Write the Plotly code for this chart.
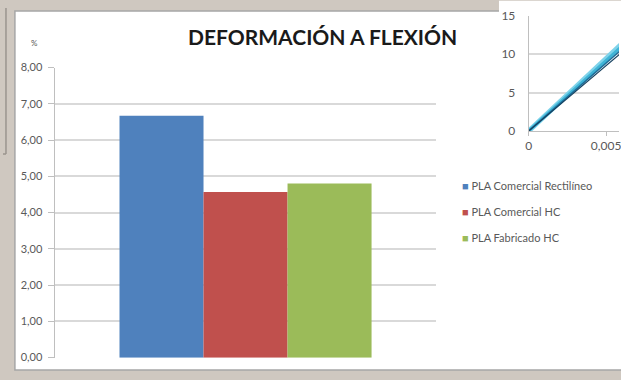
import plotly.graph_objects as go

# Bending strain per material (%)
materials = ["PLA Comercial Rectilíneo", "PLA Comercial HC", "PLA Fabricado HC"]
strain_pct = [6.67, 4.57, 4.80]
bar_colors = ["#4F81BD", "#C0504D", "#9BBB59"]
category = ["Deformación"]

y_ticks = [0, 1, 2, 3, 4, 5, 6, 7, 8]
y_tick_labels = ["0,00", "1,00", "2,00", "3,00", "4,00", "5,00", "6,00", "7,00", "8,00"]

# Stress-strain curves of the side panel
curve_strain = [[0, 0.0060], [0, 0.0060], [0, 0.0060], [0, 0.0060]]
curve_stress = [[0, 11.3], [0, 11.0], [0, 10.6], [0, 10.2]]
curve_colors = ["#7FD3EA", "#3FB4D6", "#1D6E9A", "#15405F"]
curve_widths = [5, 3, 1.6, 1.2]
side_y_ticks = [0, 5, 10, 15]
side_x_ticks = [0, 0.005]
side_x_labels = ["0", "0,005"]

W, H = 621, 380

def px(x):
    return x / W

def py(y):
    return 1 - y / H

fig = go.Figure()

for name, val, col in zip(materials, strain_pct, bar_colors):
    fig.add_trace(go.Bar(
        x=category, y=[val], name=name, marker=dict(color=col, line=dict(width=0)),
        showlegend=False, xaxis="x", yaxis="y",
    ))

for xs, ys, col, w in zip(curve_strain, curve_stress, curve_colors, curve_widths):
    fig.add_trace(go.Scatter(
        x=xs, y=ys, mode="lines", line=dict(color=col, width=w),
        showlegend=False, xaxis="x2", yaxis="y2", hoverinfo="skip",
    ))

grey = "#595959"
grid = "#D9D9D9"

# Legend rows: coloured square + material name
legend_rows_y = [185, 212, 239]
legend_annotations = [
    dict(text=f"<span style='color:{col}'>■</span> {name}",
         xref="paper", yref="paper", x=px(461), y=py(ly),
         xanchor="left", yanchor="middle", showarrow=False,
         font=dict(family="Lato", size=11, color=grey))
    for name, col, ly in zip(materials, bar_colors, legend_rows_y)
]

fig.update_layout(
    width=W, height=H,
    margin=dict(l=0, r=0, t=0, b=0),
    paper_bgcolor="#CFC8C0",
    plot_bgcolor="rgba(0,0,0,0)",
    barmode="group",
    bargap=0.34,
    bargroupgap=0,
    showlegend=False,
    xaxis=dict(
        domain=[px(52), px(437)], showticklabels=False, showgrid=False,
        zeroline=False, showline=False, ticks="", fixedrange=True,
    ),
    yaxis=dict(
        domain=[py(364), py(62)], range=[0, 8],
        tickvals=y_ticks, ticktext=y_tick_labels,
        tickfont=dict(family="Lato", size=11, color=grey),
        ticks="outside", ticklen=6, tickcolor="#BFBFBF",
        ticklabelstandoff=3,
        showgrid=True, gridcolor=grid, gridwidth=1.5,
        showline=True, linecolor="#BFBFBF", linewidth=1,
        zeroline=False,
    ),
    xaxis2=dict(
        domain=[px(530), 1.0], range=[0, 0.005833], anchor="y2",
        tickvals=side_x_ticks, ticktext=side_x_labels,
        tickfont=dict(family="Lato", size=12, color=grey),
        ticks="outside", ticklen=4, tickcolor="#BFBFBF",
        ticklabeloverflow="allow",
        showgrid=False, zeroline=False,
        showline=True, linecolor="#BFBFBF",
    ),
    yaxis2=dict(
        domain=[py(128), py(8)], range=[0, 15], anchor="x2",
        tickvals=side_y_ticks,
        tickfont=dict(family="Lato", size=12, color=grey),
        ticks="", ticklabelstandoff=10,
        showgrid=True, gridcolor=grid, gridwidth=1.5,
        zeroline=False, showline=True, linecolor="#BFBFBF",
    ),
    shapes=[
        # white chart panel
        dict(type="rect", xref="paper", yref="paper",
             x0=px(12), x1=1.02, y0=py(377), y1=py(3),
             fillcolor="white", line=dict(color="#A6A6A6", width=1.5),
             layer="below"),
        # side chart sheet laid over the panel's top edge
        dict(type="rect", xref="paper", yref="paper",
             x0=px(500), x1=1.02, y0=py(160), y1=1.02,
             fillcolor="white", line=dict(width=0), layer="below"),
        # edge of the window behind
        dict(type="line", xref="paper", yref="paper",
             x0=px(3), x1=px(3), y0=py(152), y1=1.0,
             line=dict(color="#9A948E", width=1.5), layer="below"),
        dict(type="line", xref="paper", yref="paper",
             x0=0, x1=px(3), y0=py(152), y1=py(152),
             line=dict(color="#9A948E", width=1.5), layer="below"),
    ],
    annotations=[
        dict(text="<b>DEFORMACIÓN A FLEXIÓN</b>", xref="paper", yref="paper",
             x=px(322), y=py(30), xanchor="center", yanchor="middle",
             showarrow=False, font=dict(family="Lato", size=21, color="#1A1A1A")),
        dict(text="%", xref="paper", yref="paper",
             x=px(32), y=py(36), xanchor="center", yanchor="middle",
             showarrow=False, font=dict(family="Lato", size=8, color=grey)),
    ] + legend_annotations,
)

fig.write_html("out.html")
